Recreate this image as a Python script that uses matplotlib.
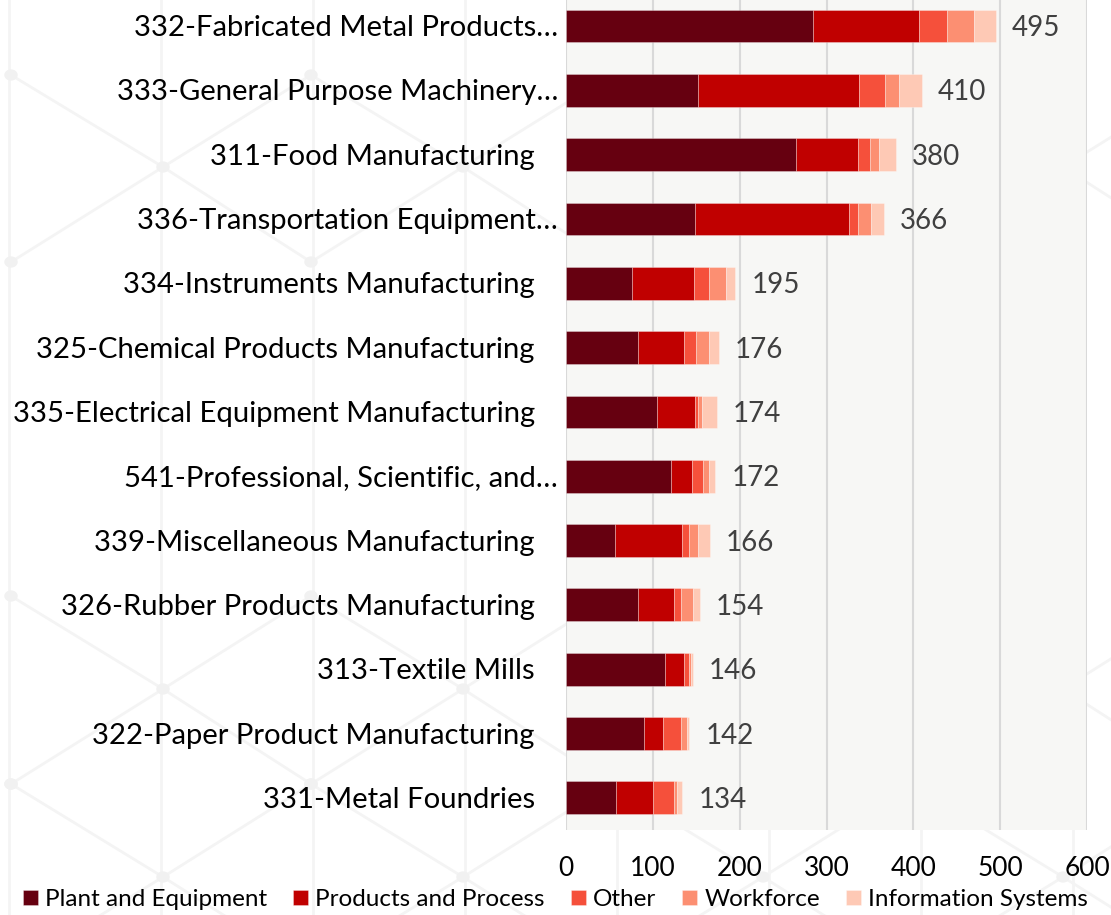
import numpy as np
import matplotlib
matplotlib.use("Agg")
import matplotlib.pyplot as plt
from matplotlib.lines import Line2D
from matplotlib.patches import Circle
from matplotlib.transforms import ScaledTranslation

# ---- data -------------------------------------------------------------
categories = [
    "332-Fabricated Metal Products…",
    "333-General Purpose Machinery…",
    "311-Food Manufacturing",
    "336-Transportation Equipment…",
    "334-Instruments Manufacturing",
    "325-Chemical Products Manufacturing",
    "335-Electrical Equipment Manufacturing",
    "541-Professional, Scientific, and…",
    "339-Miscellaneous Manufacturing",
    "326-Rubber Products Manufacturing",
    "313-Textile Mills",
    "322-Paper Product Manufacturing",
    "331-Metal Foundries",
]
plant_equipment = [285, 152, 265, 148, 76, 83, 105, 121, 56, 83, 114, 90, 58]
products_process = [122, 185, 71, 178, 71, 53, 44, 24, 78, 41, 22, 22, 42]
other = [32, 30, 14, 10, 18, 14, 3, 13, 8, 9, 6, 20, 24]
workforce = [31, 17, 10, 15, 19, 15, 5, 7, 10, 13, 2, 7, 4]
information_systems = [25, 26, 20, 15, 11, 11, 17, 7, 14, 8, 2, 3, 6]

series_names = ["Plant and Equipment", "Products and Process", "Other",
                "Workforce", "Information Systems"]
series_colors = ["#660010", "#c00000", "#f5503b", "#fc8f72", "#fec9b5"]
x_ticks = [0, 100, 200, 300, 400, 500, 600]

# ---- figure -------------------------------------------------------------
plt.rcParams["font.family"] = ["Lato", "DejaVu Sans"]
W, H = 1111, 915
fig = plt.figure(figsize=(W / 100, H / 100), dpi=100)
fig.patch.set_facecolor("white")


def fpx(x, y):
    """Pixel position (from top-left) to figure fraction."""
    return x / W, 1 - y / H


# faint hexagonal network backdrop
net_color = "#f4f4f4"
dot_color = "#f1f1f1"
for k in range(8):
    x = 9 + 152 * k
    fig.add_artist(Line2D([x / W, x / W], [0, 1], color=net_color, lw=2.0,
                          transform=fig.transFigure, zorder=-5))
for top, mid, bot in [(75, 167, 262), (596, 689, 784), (784, 877, 970)]:
    xs_outer = [11 + 300 * i for i in range(5)]
    xs_mid = [163 + 300 * i for i in range(4)]
    for row in (top, bot):
        px_x, px_y = [], []
        for i in range(4):
            px_x += [xs_outer[i], xs_mid[i]]
            px_y += [row, mid]
        px_x.append(xs_outer[4])
        px_y.append(row)
        fx = [p / W for p in px_x]
        fy = [1 - p / H for p in px_y]
        fig.add_artist(Line2D(fx, fy, color=net_color, lw=2.0,
                              transform=fig.transFigure, zorder=-5))
    for xn in xs_outer:
        for row in (top, bot):
            fig.add_artist(Circle(fpx(xn, row), 6 / W, color=dot_color,
                                  transform=fig.transFigure, zorder=-4))
    for xn in xs_mid:
        fig.add_artist(Circle(fpx(xn, mid), 6 / W, color=dot_color,
                              transform=fig.transFigure, zorder=-4))

ax = fig.add_axes([566 / W, 85 / H, (1087 - 566) / W, 830 / H])
ax.set_facecolor("#f7f7f5")
for s in ax.spines.values():
    s.set_visible(False)

n = len(categories)
ypos = np.arange(n)[::-1]
series = [plant_equipment, products_process, other, workforce, information_systems]

left = np.zeros(n)
handles = []
for vals, name, col in zip(series, series_names, series_colors):
    vals = np.asarray(vals, dtype=float)
    b = ax.barh(ypos, vals, left=left, height=0.51, color=col, label=name,
                edgecolor=(1, 1, 1, 0.35), linewidth=0.6, zorder=3)
    handles.append(b)
    left = left + vals

totals = left
ax.set_xlim(0, 600)
ax.set_ylim(-0.5, 12.404)
ax.set_xticks(x_ticks)
ax.set_yticks([])
ax.tick_params(axis="x", length=0, pad=19, labelsize=19, labelcolor="black")
ax.xaxis.grid(True, color="#d9d9d9", lw=1.5)
ax.set_axisbelow(True)

# total labels at bar ends
for yi, tot in zip(ypos, totals):
    tr = ax.transData + ScaledTranslation(0.16, -0.10, fig.dpi_scale_trans)
    ax.text(tot, yi, f"{int(round(tot))}", transform=tr, ha="left",
            va="baseline", fontsize=20, color="#404040", zorder=4)

# category labels
for yi, lab in zip(ypos, categories):
    dx = 8 if lab.endswith("…") else 31
    tr = ax.get_yaxis_transform() + ScaledTranslation(-dx / 100, -0.10,
                                                      fig.dpi_scale_trans)
    ax.text(0, yi, lab, transform=tr, ha="right", va="baseline",
            fontsize=21.1, color="black", clip_on=False)

fig.legend(handles=handles, labels=series_names, loc="center",
           bbox_to_anchor=(0.5, 1 - 899.5 / H), ncol=5, frameon=False,
           fontsize=17.5, handlelength=0.62, handleheight=0.62,
           handletextpad=0.29, columnspacing=1.07, borderaxespad=0)

fig.savefig("out.png", dpi=100, facecolor="white")
